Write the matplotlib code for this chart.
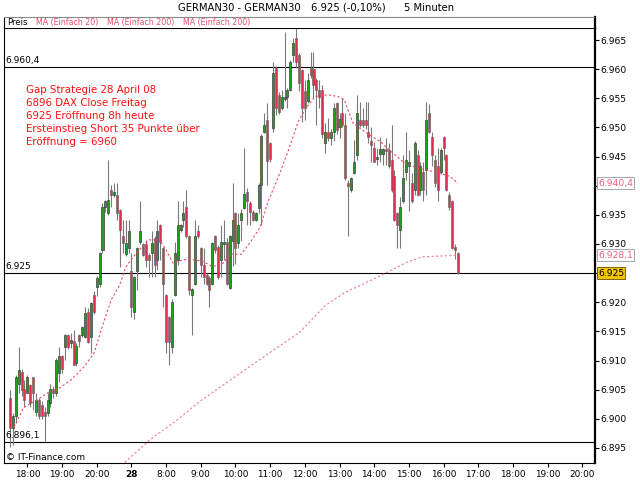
import matplotlib
matplotlib.use("Agg")
import matplotlib.pyplot as plt
from matplotlib.ticker import FuncFormatter
import numpy as np

# 5-minute candles, 27.04 17:30 .. 28.04 16:25 (session gap removed)
opens = [6903.5, 6898.5, 6900.5, 6906.0, 6908.0, 6905.2, 6904.4, 6905.8, 6907.2, 6901.2,
         6903.2, 6902.4, 6901.2, 6901.0, 6902.7, 6905.2, 6904.4, 6907.8, 6910.7, 6912.4,
         6914.4, 6913.0, 6913.3, 6909.5, 6914.4, 6914.4, 6914.0, 6918.4, 6914.0, 6921.2,
         6922.7, 6923.2, 6929.0, 6936.4, 6935.3, 6939.3, 6938.4, 6938.4, 6935.8, 6931.3,
         6928.3, 6929.3, 6925.3, 6918.4, 6925.3, 6930.4, 6930.0, 6930.0, 6928.1, 6928.4,
         6931.0, 6927.3, 6933.3, 6929.3, 6921.2, 6917.5, 6912.4, 6921.2, 6927.3, 6932.4,
         6934.2, 6936.4, 6931.3, 6921.3, 6923.2, 6932.3, 6929.3, 6926.4, 6924.7, 6924.1,
         6923.2, 6931.3, 6929.5, 6927.3, 6930.0, 6930.4, 6922.4, 6930.5, 6935.3, 6930.2,
         6934.2, 6936.2, 6939.0, 6937.0, 6935.5, 6934.2, 6936.2, 6940.2, 6949.3, 6951.3,
         6947.3, 6949.9, 6960.2, 6955.6, 6953.3, 6954.8, 6955.3, 6956.5, 6962.5, 6965.3,
         6962.5, 6959.9, 6956.2, 6954.5, 6960.2, 6960.0, 6958.2, 6956.5, 6956.5, 6947.3,
         6949.3, 6948.2, 6949.3, 6954.2, 6950.0, 6952.4, 6950.4, 6940.5, 6939.3, 6942.1,
         6945.3, 6951.3, 6951.3, 6951.3, 6949.3, 6947.6, 6946.4, 6944.5, 6945.4, 6945.4,
         6946.3, 6946.1, 6944.4, 6941.6, 6935.3, 6932.4, 6937.3, 6942.4, 6943.3, 6940.4,
         6939.3, 6945.3, 6939.3, 6942.4, 6942.7, 6952.4, 6948.4, 6944.4, 6943.3, 6942.4,
         6948.4, 6945.3, 6938.4, 6937.3, 6929.5, 6928.4]
highs = [6905.0, 6901.0, 6907.5, 6912.4, 6908.5, 6906.6, 6907.5, 6906.0, 6907.2, 6904.4,
         6903.5, 6903.0, 6902.0, 6904.4, 6906.0, 6905.6, 6910.5, 6912.4, 6911.0, 6914.5,
         6914.6, 6914.7, 6915.3, 6913.0, 6914.5, 6916.0, 6919.2, 6919.0, 6920.0, 6922.0,
         6924.5, 6928.6, 6937.0, 6937.6, 6944.4, 6940.1, 6940.4, 6940.4, 6936.0, 6934.2,
         6934.2, 6934.1, 6928.4, 6924.5, 6929.5, 6937.3, 6930.2, 6930.6, 6928.4, 6932.3,
         6931.3, 6934.2, 6933.5, 6929.5, 6921.5, 6917.6, 6920.5, 6930.4, 6937.3, 6933.5,
         6937.3, 6939.3, 6931.5, 6922.5, 6934.1, 6933.3, 6929.5, 6929.3, 6925.0, 6924.5,
         6930.4, 6931.5, 6929.8, 6933.3, 6934.2, 6931.0, 6931.5, 6940.5, 6935.5, 6935.3,
         6936.0, 6946.5, 6939.6, 6937.3, 6935.8, 6935.5, 6940.5, 6948.8, 6952.5, 6954.2,
         6947.5, 6961.3, 6960.5, 6956.0, 6956.5, 6966.4, 6956.8, 6961.6, 6965.4, 6967.0,
         6962.8, 6960.0, 6958.2, 6959.3, 6963.0, 6963.0, 6958.5, 6958.2, 6957.3, 6950.8,
         6951.6, 6949.8, 6954.2, 6954.3, 6952.5, 6955.0, 6952.4, 6941.0, 6941.5, 6947.8,
         6955.6, 6954.4, 6953.3, 6954.4, 6954.4, 6950.1, 6947.5, 6946.4, 6948.4, 6946.5,
         6948.1, 6947.3, 6950.4, 6942.7, 6935.5, 6938.1, 6945.3, 6949.3, 6946.1, 6942.1,
         6947.6, 6946.1, 6944.1, 6944.1, 6954.4, 6954.1, 6949.3, 6945.3, 6946.4, 6946.4,
         6948.6, 6945.5, 6939.0, 6937.6, 6930.0, 6928.6]
lows = [6895.2, 6895.5, 6899.3, 6904.4, 6904.0, 6902.1, 6904.4, 6902.0, 6901.5, 6900.4,
        6900.0, 6900.0, 6896.2, 6900.4, 6902.0, 6903.5, 6904.0, 6906.4, 6907.8, 6910.1,
        6912.0, 6912.1, 6909.2, 6909.0, 6912.4, 6914.0, 6913.8, 6913.0, 6911.3, 6918.0,
        6921.0, 6922.7, 6928.4, 6935.5, 6935.0, 6936.4, 6938.0, 6934.2, 6926.1, 6928.4,
        6928.0, 6928.4, 6917.5, 6917.2, 6922.1, 6930.0, 6928.0, 6926.0, 6924.4, 6924.4,
        6924.4, 6925.5, 6927.3, 6919.2, 6911.3, 6909.2, 6911.3, 6921.0, 6926.4, 6932.0,
        6933.0, 6931.0, 6921.3, 6914.4, 6923.0, 6931.0, 6924.4, 6923.2, 6923.0, 6919.2,
        6923.0, 6928.5, 6924.0, 6924.4, 6927.3, 6923.0, 6922.2, 6926.2, 6926.5, 6929.3,
        6930.5, 6936.0, 6933.3, 6933.3, 6934.0, 6934.0, 6935.3, 6933.3, 6949.0, 6940.2,
        6944.0, 6949.3, 6952.2, 6952.3, 6953.0, 6954.5, 6953.3, 6956.2, 6961.3, 6960.2,
        6956.2, 6951.0, 6951.3, 6954.2, 6958.5, 6955.0, 6950.5, 6953.3, 6948.2, 6945.6,
        6947.6, 6947.0, 6947.6, 6948.8, 6948.2, 6950.0, 6941.0, 6931.3, 6939.0, 6942.0,
        6944.4, 6950.0, 6950.0, 6949.8, 6947.3, 6944.1, 6944.0, 6943.6, 6944.0, 6943.6,
        6943.6, 6943.0, 6939.0, 6934.0, 6929.3, 6929.3, 6937.0, 6941.0, 6935.6, 6937.0,
        6938.4, 6938.2, 6938.4, 6937.3, 6938.4, 6949.0, 6943.3, 6939.8, 6937.3, 6942.0,
        6944.4, 6939.1, 6935.8, 6929.1, 6927.5, 6924.8]
closes = [6898.5, 6900.5, 6907.2, 6908.3, 6905.0, 6903.2, 6907.2, 6902.7, 6904.4, 6903.2,
          6900.4, 6900.4, 6900.4, 6903.2, 6905.2, 6904.4, 6910.1, 6910.7, 6908.5, 6914.4,
          6912.4, 6913.5, 6909.3, 6912.5, 6913.3, 6915.8, 6918.1, 6913.2, 6919.8, 6918.4,
          6924.1, 6928.4, 6936.4, 6937.3, 6937.5, 6938.4, 6939.0, 6935.3, 6932.4, 6930.2,
          6930.1, 6932.3, 6919.2, 6924.4, 6929.3, 6932.3, 6928.1, 6927.3, 6927.3, 6930.1,
          6926.4, 6932.3, 6930.4, 6923.2, 6913.2, 6913.2, 6920.1, 6928.4, 6933.3, 6933.3,
          6935.3, 6931.3, 6922.1, 6922.2, 6931.3, 6931.3, 6926.4, 6924.4, 6923.2, 6922.1,
          6930.1, 6929.0, 6924.4, 6930.4, 6930.4, 6923.2, 6931.3, 6934.2, 6929.3, 6933.3,
          6935.3, 6938.5, 6937.3, 6935.5, 6934.2, 6935.3, 6940.2, 6948.5, 6950.5, 6944.2,
          6944.5, 6959.3, 6953.3, 6952.6, 6955.3, 6955.3, 6956.5, 6961.3, 6964.5, 6961.3,
          6957.6, 6953.3, 6953.3, 6958.2, 6959.0, 6957.3, 6956.5, 6955.3, 6948.8, 6949.3,
          6948.2, 6949.3, 6953.3, 6949.6, 6951.5, 6950.4, 6941.3, 6940.0, 6941.3, 6944.1,
          6952.4, 6950.4, 6950.4, 6950.4, 6948.4, 6947.0, 6944.1, 6944.8, 6946.3, 6946.3,
          6946.0, 6943.3, 6939.3, 6934.1, 6933.3, 6936.4, 6941.3, 6944.4, 6944.1, 6937.3,
          6947.3, 6938.4, 6943.3, 6939.3, 6951.3, 6949.3, 6945.3, 6940.4, 6939.3, 6946.1,
          6946.4, 6939.3, 6936.4, 6929.3, 6929.0, 6925.0]

# moving averages (bar position, value)
ma20_pos = [1.4, 4.8, 9.3, 12.8, 16.3, 21.1, 25.6, 29.1, 31.5, 35, 38, 40.1, 43.6, 48.1,
            51.6, 54, 56.4, 59.9, 63.3, 66.8, 70.2, 73.7, 76.5, 79.9, 83.4, 86.5, 89.3,
            92.7, 96.2, 99.7, 102.4, 105.5, 110, 113.5, 115.6, 118.7, 123.5, 128, 132.5,
            136, 140.8, 144.3, 148.8, 152.2, 155]
ma20_val = [6898.6, 6902.0, 6903.2, 6904.4, 6905.0, 6906.7, 6908.9, 6911.3, 6915.2, 6920.4,
            6923.0, 6926.1, 6928.4, 6930.7, 6930.7, 6929.0, 6926.7, 6927.3, 6927.3, 6927.0,
            6926.1, 6926.7, 6928.3, 6928.2, 6930.5, 6932.8, 6937.3, 6941.3, 6945.9, 6951.0,
            6953.3, 6955.3, 6955.6, 6955.3, 6954.8, 6950.7, 6949.0, 6947.6, 6945.6, 6944.1,
            6943.0, 6942.7, 6942.1, 6941.6, 6940.4]
ma200_pos = [37.4, 48.4, 57.8, 65.7, 83, 100.3, 109, 115.6, 126.3, 137.4, 142.9, 152.2, 155]
ma200_val = [6891.5, 6896.4, 6899.8, 6903.0, 6909.0, 6914.9, 6919.4, 6921.6, 6924.1,
             6926.9, 6927.8, 6928.0, 6928.1]

tick_pos = [6, 18, 30, 42, 54, 66, 78, 90, 102, 114, 126, 138, 150, 162, 174, 186, 198]
tick_lab = ["18:00", "19:00", "20:00", "28", "8:00", "9:00", "10:00", "11:00", "12:00",
            "13:00", "14:00", "15:00", "16:00", "17:00", "18:00", "19:00", "20:00"]

levels = [6960.4, 6925.0, 6896.1]
level_lab = ["6.960,4", "6.925", "6.896,1"]

legend_lab = ["MA (Einfach 20)", "MA (Einfach 200)", "MA (Einfach 200)"]

notes = ["Gap Strategie 28 April 08", "6896 DAX Close Freitag", "6925 Eröffnung 8h heute",
         "Ersteinstieg Short 35 Punkte über", "Eröffnung = 6960"]

plt.rcParams['font.family'] = ['DejaVu Sans']
W, H = 640, 480
fig = plt.figure(figsize=(6.4, 4.8), dpi=100)
ax = fig.add_axes([4 / W, 17 / H, 591 / W, 435 / H])

o = np.array(opens); h = np.array(highs); l = np.array(lows); c = np.array(closes)
idx = np.arange(len(c))
up = c >= o
ax.vlines(idx, l, h, color='#7a7a7a', lw=0.8, zorder=2)
bot = np.minimum(o, c)
hgt = np.maximum(np.abs(c - o), 0.35)
ax.bar(idx[up], hgt[up], bottom=bot[up], width=0.7, color='#1fa01f',
       edgecolor='#333333', lw=0.45, zorder=3)
ax.bar(idx[~up], hgt[~up], bottom=bot[~up], width=0.7, color='#e0304c',
       edgecolor='#666666', lw=0.45, zorder=3)

ax.plot(ma200_pos, ma200_val, color='#f27a92', lw=0.8, dashes=(2, 2), zorder=4)
ax.plot(ma20_pos, ma20_val, color='#e84a64', lw=0.8, dashes=(2, 2), zorder=4)

for lv, lb in zip(levels, level_lab):
    ax.axhline(lv, color='black', lw=0.8, zorder=1)
    ax.text(-1.6, lv + 0.35, lb, fontsize=6.5, ha='left', va='bottom', zorder=5)

ax.set_xlim(-2.08, 202.4)
ax.set_ylim(6892.42, 6967.06)

ax.set_xticks(tick_pos, tick_lab)
ax.get_xticklabels()[3].set_fontweight('bold')
ax.tick_params(axis='x', length=3, width=0.8, labelsize=6.4, pad=2)
ax.yaxis.tick_right()
ax.set_yticks(range(6895, 6966, 5))
# tick labels under the value boxes are hidden, as in the original
hidden = (6940, 6925)
ax.yaxis.set_major_formatter(FuncFormatter(
    lambda v, p: "" if int(round(v)) in hidden else f"{int(v) // 1000}.{int(v) % 1000:03d}"))
ax.tick_params(axis='y', length=3, width=0.8, labelsize=6.6, pad=1)
for s in ['left', 'top', 'bottom']:
    ax.spines[s].set_linewidth(0.8)
ax.spines['right'].set_linewidth(1.6)

# value boxes on the price axis
ytr = ax.get_yaxis_transform()
ax.text(1.005, 6940.4, "6.940,4", transform=ytr, fontsize=6.6, color='#f06080', ha='left',
        va='center', zorder=6, bbox=dict(boxstyle='square,pad=0.15', fc='white', ec='#9a9a9a', lw=0.6))
ax.text(1.005, 6928.1, "6.928,1", transform=ytr, fontsize=6.6, color='#f06080', ha='left',
        va='center', zorder=6, bbox=dict(boxstyle='square,pad=0.15', fc='white', ec='#9a9a9a', lw=0.6))
ax.text(1.005, 6925.0, "6.925", transform=ytr, fontsize=6.6, color='black', ha='left',
        va='center', zorder=7, bbox=dict(boxstyle='square,pad=0.15', fc='#f5c400', ec='#6a5000', lw=0.6))

# legend strip above the chart
lax = fig.add_axes([4 / W, 452 / H, 591 / W, 11 / H])
lax.set_xticks([]); lax.set_yticks([])
lax.set_xlim(0, 591); lax.set_ylim(0, 11)
lax.spines['bottom'].set_visible(False)
lax.spines['top'].set_color('#8a8a8a')
lax.spines['top'].set_linestyle((0, (1, 1)))
lax.spines['top'].set_linewidth(0.8)
lax.spines['left'].set_linewidth(0.8)
lax.spines['right'].set_linewidth(1.6)
lax.text(3, 5.5, "Preis", fontsize=6.2, va='center')
for xx, lb in zip([32, 103, 179], legend_lab):
    lax.text(xx, 5.5, lb, fontsize=5.7, va='center', color='#e8506e')

fig.text(178 / W, 1 - 8 / H, "GERMAN30 - GERMAN30", fontsize=7.2, va='center')
fig.text(311 / W, 1 - 8 / H, "6.925 (-0,10%)", fontsize=7.2, va='center')
fig.text(404 / W, 1 - 8 / H, "5 Minuten", fontsize=7.2, va='center')

for k, line in enumerate(notes):
    fig.text(26 / W, 1 - (90 + 13 * k) / H, line, fontsize=7.4, color='#ff1010', va='center')

fig.text(6 / W, 1 - 457 / H, "© IT-Finance.com", fontsize=6.5, va='center')

fig.savefig("out.png", dpi=100)
